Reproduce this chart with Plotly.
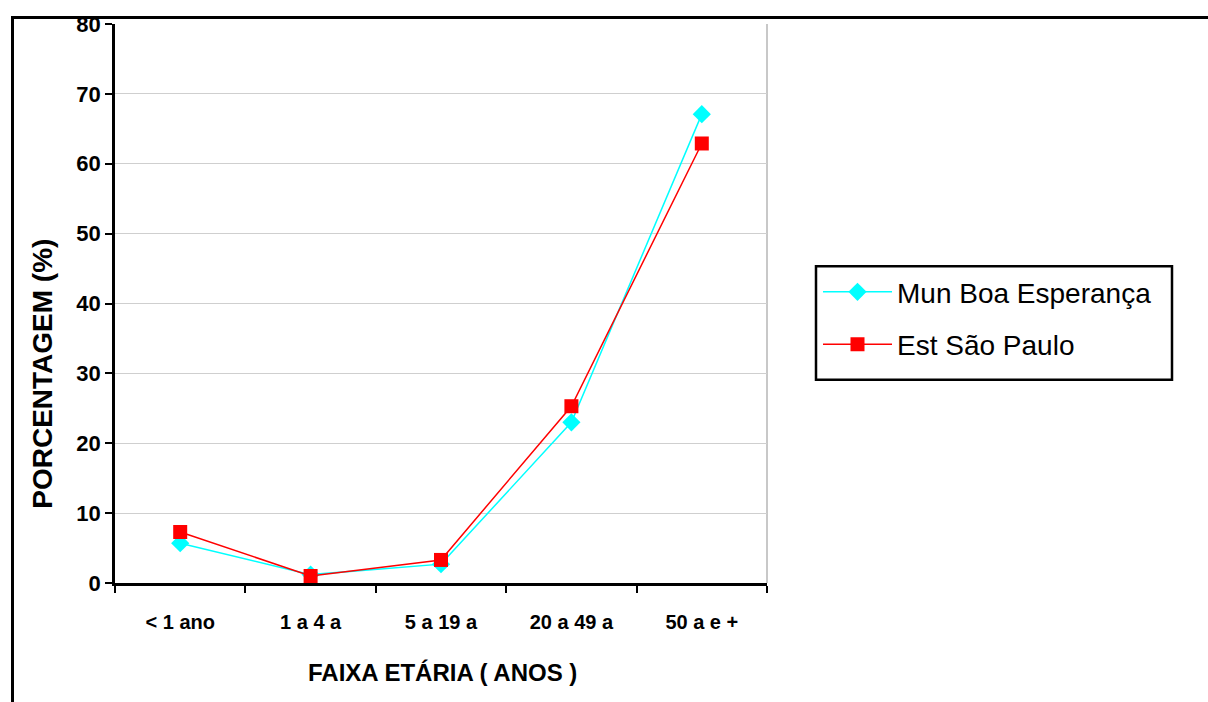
import plotly.graph_objects as go

categories = ["< 1 ano", "1 a 4 a", "5 a 19 a", "20 a 49 a", "50 a e +"]
mun_boa_esperanca = [5.7, 1.2, 2.7, 23.0, 67.1]
est_sao_paulo = [7.3, 1.0, 3.3, 25.3, 62.9]
y_ticks = [0, 10, 20, 30, 40, 50, 60, 70, 80]

W, H = 1208, 702
L, R, T, B = 115, 767, 22, 583
pw, ph = R - L, B - T

def px_x(px):
    return (px - L) / pw

def px_y(py):
    return (B - py) / ph

fig = go.Figure()
fig.add_trace(go.Scatter(
    x=categories, y=mun_boa_esperanca, name="Mun Boa Esperança",
    mode="lines+markers", legendgroup="a",
    line=dict(color="#00FFFF", width=1.5),
    marker=dict(symbol="diamond", size=14, color="#00FFFF"),
    cliponaxis=False,
))
fig.add_trace(go.Scatter(
    x=categories, y=est_sao_paulo, name="Est São Paulo",
    mode="lines+markers", legendgroup="b",
    line=dict(color="#FF0000", width=1.5),
    marker=dict(symbol="square", size=14, color="#FF0000"),
    cliponaxis=False,
))

tick_font = dict(family="Liberation Sans Narrow, Arial Narrow, Liberation Sans, Arial", size=20, color="black", weight="bold")

fig.update_layout(
    width=W, height=H,
    margin=dict(l=L, r=W - R, t=T, b=H - B, pad=0),
    paper_bgcolor="white", plot_bgcolor="white",
    font=dict(family="Liberation Sans, Arial", color="black"),
    showlegend=True,
    legend=dict(
        x=px_x(818), y=px_y(266), xanchor="left", yanchor="top",
        bgcolor="rgba(0,0,0,0)", borderwidth=0,
        font=dict(family="Liberation Sans, Arial", size=28, color="black"),
        traceorder="grouped", tracegroupgap=13,
        itemwidth=69, entrywidth=320,
    ),
    xaxis=dict(
        type="category", categoryorder="array", categoryarray=categories,
        tickson="boundaries", ticks="outside", ticklen=7, tickwidth=2, tickcolor="black",
        showline=True, linecolor="black", linewidth=2.5,
        showgrid=False, zeroline=False,
        tickfont=tick_font, ticklabelstandoff=19,
        range=[-0.5, 4.5],
    ),
    yaxis=dict(
        range=[0, 80], tickvals=y_ticks, ticktext=[str(v) for v in y_ticks],
        ticks="outside", ticklen=7, tickwidth=2, tickcolor="black",
        showline=True, linecolor="black", linewidth=2.5,
        showgrid=True, gridcolor="#cfcfcf", gridwidth=1.2,
        zeroline=False,
        tickfont=dict(family="Liberation Sans, Arial", size=22, color="black", weight="bold"),
        ticklabelstandoff=0,
    ),
    shapes=[
        dict(type="line", xref="paper", yref="paper", x0=1, x1=1, y0=0, y1=1,
             line=dict(color="#c8c8c8", width=2), layer="below"),
        dict(type="rect", xref="paper", yref="paper",
             x0=px_x(12.5), x1=px_x(1220), y0=px_y(720), y1=px_y(15.5),
             line=dict(color="black", width=3), fillcolor="rgba(0,0,0,0)"),
        dict(type="rect", xref="paper", yref="paper",
             x0=px_x(816), x1=px_x(1172), y0=px_y(379), y1=px_y(265),
             line=dict(color="black", width=2.5), fillcolor="white", layer="above"),
    ],
    annotations=[
        dict(text="FAIXA ETÁRIA ( ANOS )", xref="paper", yref="paper",
             x=px_x(442), y=px_y(673), xanchor="center", yanchor="middle",
             showarrow=False,
             font=dict(family="Liberation Sans, Arial", size=24, color="black", weight="bold")),
        dict(text="PORCENTAGEM (%)", xref="paper", yref="paper",
             x=px_x(43), y=px_y(373), xanchor="center", yanchor="middle",
             textangle=-90, showarrow=False,
             font=dict(family="Liberation Sans, Arial", size=28, color="black", weight="bold")),
    ],
)

fig.write_html("out.html")
